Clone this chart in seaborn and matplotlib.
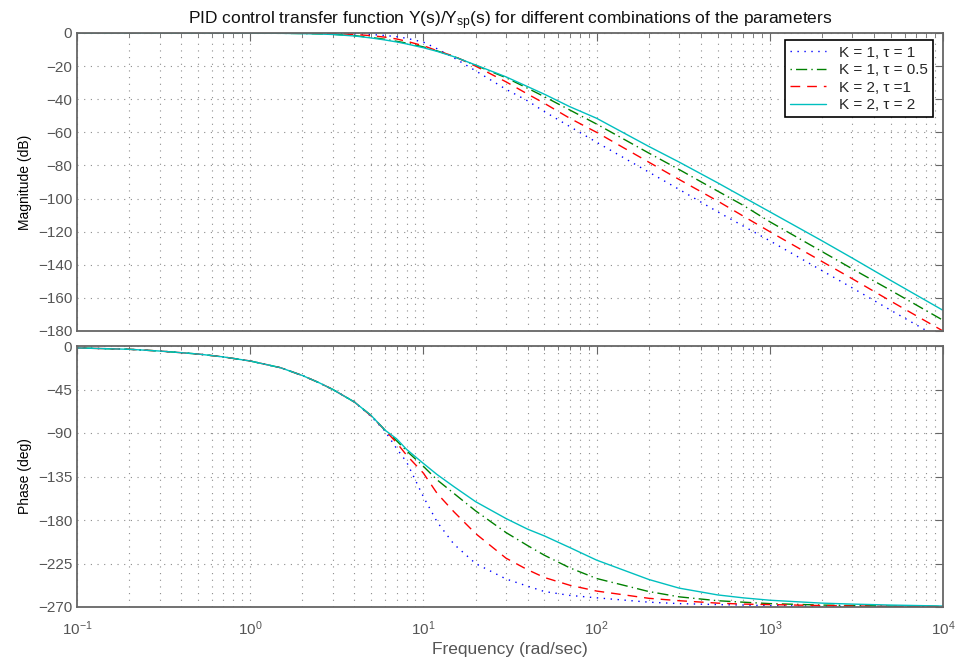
import numpy as np
import pandas as pd
import matplotlib
matplotlib.use("Agg")
import matplotlib.pyplot as plt
from matplotlib.ticker import LogLocator, NullFormatter
import seaborn as sns

# ---------------- data ----------------
freq = [0.1, 0.2, 0.3, 0.5, 0.7, 1, 1.5, 2, 2.5, 3, 4, 5, 6, 7, 8, 10, 12, 15, 20, 30, 40,
        50, 70, 100, 200, 300, 500, 700, 1000, 2000, 3000, 5000, 10000]

labels = ["K = 1, \u03c4 = 1", "K = 1, \u03c4 = 0.5", "K = 2, \u03c4 =1", "K = 2, \u03c4 = 2"]

mag_k1_t1 = [0, 0, 0, 0, 0, 0, 0, 0.1, 0.1, 0, -0.4, -0.9, -1.5, -2.2, -3.2, -5.5, -9.5,
             -15.0, -22.8, -34, -41, -47.5, -56.5, -66, -84, -94.5, -108, -116.5, -125.5,
             -143.5, -154, -167.5, -185.5]
mag_k1_t05 = [0, 0, 0, 0, 0, -0.1, -0.2, -0.3, -0.5, -0.8, -1.6, -2.7, -3.8, -5.0, -6.1,
              -8.4, -10.8, -14.2, -19.5, -27, -33.4, -38.5, -46.5, -55, -72.5, -82.5, -95.5,
              -104, -114, -132, -142.5, -155.5, -173.5]
mag_k2_t1 = [0, 0, 0, 0, 0, 0, 0, 0, -0.1, -0.3, -0.9, -1.6, -2.5, -3.6, -5.0, -7.7, -10.7,
             -14.0, -20.0, -29.5, -36.9, -42.5, -51.5, -60, -78, -88.5, -101.5, -110.5, -120,
             -138, -148.5, -162, -180]
mag_k2_t2 = [0, 0, 0, 0, 0, -0.1, -0.2, -0.4, -0.6, -0.9, -1.8, -3.0, -4.2, -5.4, -6.6, -8.9,
             -11.1, -14.3, -19.3, -26.5, -32.4, -37, -44.5, -51.5, -68.5, -78, -90.5, -99,
             -108, -125.5, -136, -149.5, -167.5]

ph_k1_t1 = [-2, -3.4, -5.2, -8.3, -11.3, -15.5, -22.5, -30.5, -38, -45, -58, -73, -88, -106,
            -120, -156, -182, -205, -225, -241, -248.5, -254, -258, -260.5, -265, -266.5,
            -267.5, -268, -268.5, -269.2, -269.5, -269.6, -269.8]
ph_k1_t05 = [-2, -3.4, -5.2, -8.3, -11.3, -15.5, -22.5, -30.5, -38, -45, -58, -72, -87, -98,
             -108.5, -124.5, -138.5, -152.5, -170.5, -193, -206.5, -216.5, -229.5, -240.5,
             -254, -259.5, -263.5, -265, -266.5, -268, -268.5, -269, -269.5]
ph_k2_t1 = [-2, -3.4, -5.2, -8.3, -11.3, -15.5, -22.5, -30.5, -38, -45, -58, -72.5, -87, -100,
            -113, -131.5, -152.5, -171.5, -194, -219.5, -231.5, -239.5, -247.5, -253.5, -261,
            -263.5, -266, -267, -267.5, -268.5, -269, -269.2, -269.6]
ph_k2_t2 = [-2, -3.4, -5.2, -8.3, -11.3, -15.5, -22.5, -30.5, -38, -45, -58, -72, -87, -96,
            -107, -121.5, -133, -145.5, -161, -178.5, -189.5, -196.5, -208.5, -221.5, -241.5,
            -250.5, -257.5, -260.5, -263, -266, -267, -268, -269]

mag_series = [mag_k1_t1, mag_k1_t05, mag_k2_t1, mag_k2_t2]
ph_series = [ph_k1_t1, ph_k1_t05, ph_k2_t1, ph_k2_t2]

mag_ticks = [0, -20, -40, -60, -80, -100, -120, -140, -160, -180]
ph_ticks = [0, -45, -90, -135, -180, -225, -270]

# ---------------- style ----------------
colors = ["#0000ff", "#008000", "#ff0000", "#00bfbf"]
styles = [(0, (1, 4)), (0, (1, 3, 8, 3)), (0, (7, 5)), "-"]

sns.set_style("white")
plt.rcParams["font.family"] = ["Liberation Sans", "DejaVu Sans"]
plt.rcParams["mathtext.fontset"] = "custom"
plt.rcParams["mathtext.rm"] = "Liberation Sans"
plt.rcParams["mathtext.it"] = "Liberation Sans:italic"

frame_col = "#666666"
tick_col = "#555555"
grid_col = "#8c8c8c"

fig = plt.figure(figsize=(9.55, 6.6), dpi=100)
ax1 = fig.add_axes([77 / 955, 1 - 331 / 660, (943 - 77) / 955, (331 - 33) / 660])
ax2 = fig.add_axes([77 / 955, 1 - 607 / 660, (943 - 77) / 955, (607 - 346) / 660])

handles = []
for i in range(4):
    dfm = pd.DataFrame({"freq": freq, "val": mag_series[i]})
    sns.lineplot(data=dfm, x="freq", y="val", ax=ax1, color=colors[i],
                 linestyle=styles[i], linewidth=1.0, sort=True, estimator=None)
    handles.append(ax1.lines[-1])
    dfp = pd.DataFrame({"freq": freq, "val": ph_series[i]})
    sns.lineplot(data=dfp, x="freq", y="val", ax=ax2, color=colors[i],
                 linestyle=styles[i], linewidth=1.0, sort=True, estimator=None)

for ax in (ax1, ax2):
    ax.set_xscale("log")
    ax.set_xlim(0.1, 1e4)
    ax.xaxis.set_major_locator(LogLocator(base=10, numticks=10))
    ax.xaxis.set_minor_locator(LogLocator(base=10, subs=np.arange(2, 10), numticks=20))
    ax.xaxis.set_minor_formatter(NullFormatter())
    ax.grid(True, which="major", axis="both", color=grid_col, linestyle=(0, (1, 5)),
            linewidth=0.8)
    ax.grid(True, which="minor", axis="x", color=grid_col, linestyle=(0, (1, 5)),
            linewidth=0.8)
    ax.tick_params(axis="both", which="both", direction="in", top=True, right=True,
                   colors=frame_col, labelcolor=tick_col, labelsize=11)
    ax.tick_params(which="major", length=6, width=0.8)
    ax.tick_params(which="minor", length=3, width=0.6)
    for sp in ax.spines.values():
        sp.set_color(frame_col)
        sp.set_linewidth(1.3)
    ax.set_axisbelow(True)

ax1.set_ylim(-180, 0)
ax1.set_yticks(mag_ticks)
ax1.tick_params(axis="x", labelbottom=False)
ax1.set_xlabel("")
ax1.set_ylabel("Magnitude (dB)", fontsize=10, color="black", labelpad=4)

ax2.set_ylim(-270, 0)
ax2.set_yticks(ph_ticks)
ax2.set_ylabel("Phase (deg)", fontsize=10, color="black", labelpad=4)
ax2.set_xlabel("Frequency (rad/sec)", fontsize=12.5, color="#555555", labelpad=3)
ax2.tick_params(axis="x", pad=9)

ax1.set_title(r"PID control transfer function Y(s)/Y$_{\mathrm{sp}}$(s) for different combinations of the parameters",
              fontsize=12.5, color="#111111", pad=6)

leg = ax1.legend(handles, labels, loc="upper right", bbox_to_anchor=(0.989, 0.975),
                 fontsize=11, frameon=True, fancybox=False, framealpha=1,
                 edgecolor="black", handlelength=2.3, borderpad=0.35, labelspacing=0.22,
                 handletextpad=0.9, borderaxespad=0)
leg.get_frame().set_linewidth(1.2)

fig.savefig("out.png", dpi=100)
